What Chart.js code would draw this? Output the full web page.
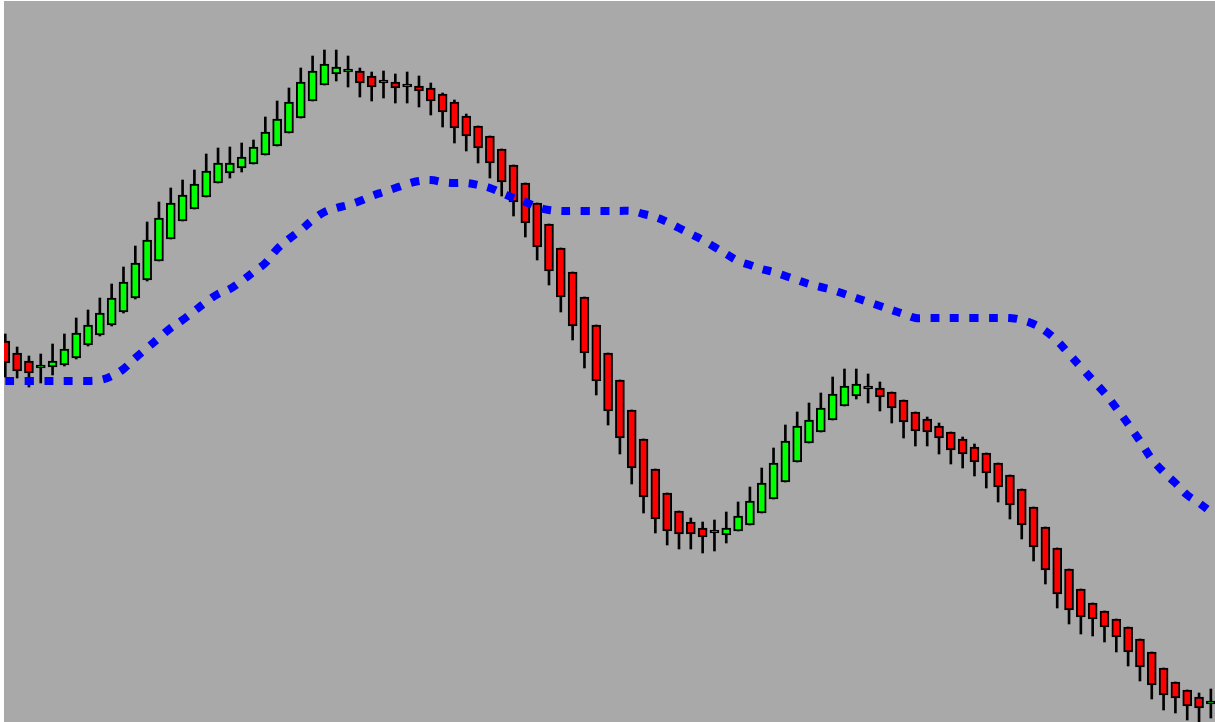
<!DOCTYPE html>
<html>
<head>
<meta charset="utf-8">
<script src="https://cdn.jsdelivr.net/npm/chart.js@4"></script>
<style>
html,body{margin:0;padding:0;background:#ffffff;width:1215px;height:722px;overflow:hidden}
#wrap{position:absolute;left:4px;top:1px;width:1211px;height:721px}
</style>
</head>
<body>
<div id="wrap"><canvas id="c" width="1211" height="721"></canvas></div>
<script>
// Bar numbers (one per candle)
const bars = Array.from({length: 103}, (_, i) => i);

const open = [
1.2659,1.2647,1.2639,1.2632,1.2633,1.2635,1.2642,1.2655,1.2665,1.2675,
1.2688,1.2702,1.2720,1.2739,1.2761,1.2779,1.2791,1.2803,1.2817,1.2827,
1.2832,1.2836,1.2845,1.2854,1.2867,1.2882,1.2899,1.2915,1.2926,1.2928,
1.2929,1.2924,1.2917,1.2918,1.2913,1.2914,1.2912,1.2906,1.2898,1.2884,
1.2874,1.2864,1.2851,1.2835,1.2817,1.2797,1.2776,1.2752,1.2728,1.2703,
1.2675,1.2647,1.2620,1.2590,1.2561,1.2531,1.2507,1.2489,1.2478,1.2472,
1.2467,1.2465,1.2469,1.2475,1.2487,1.2501,1.2518,1.2538,1.2557,1.2568,
1.2580,1.2594,1.2604,1.2611,1.2612,1.2608,1.2600,1.2588,1.2581,1.2574,
1.2568,1.2561,1.2553,1.2547,1.2537,1.2525,1.2511,1.2493,1.2473,1.2452,
1.2431,1.2411,1.2397,1.2389,1.2381,1.2373,1.2361,1.2348,1.2332,1.2318,
1.2310,1.2303,1.2296];

const high = [
1.2666,1.2653,1.2644,1.2646,1.2656,1.2666,1.2682,1.2690,1.2702,1.2716,
1.2733,1.2754,1.2778,1.2798,1.2812,1.2820,1.2830,1.2846,1.2852,1.2853,
1.2857,1.2860,1.2883,1.2899,1.2912,1.2932,1.2944,1.2950,1.2950,1.2944,
1.2932,1.2928,1.2929,1.2926,1.2928,1.2924,1.2917,1.2907,1.2900,1.2886,
1.2874,1.2864,1.2851,1.2835,1.2817,1.2797,1.2776,1.2752,1.2728,1.2703,
1.2675,1.2647,1.2620,1.2590,1.2561,1.2531,1.2507,1.2489,1.2482,1.2478,
1.2480,1.2488,1.2498,1.2513,1.2532,1.2552,1.2575,1.2588,1.2597,1.2607,
1.2623,1.2631,1.2631,1.2626,1.2618,1.2608,1.2600,1.2588,1.2583,1.2577,
1.2568,1.2563,1.2556,1.2547,1.2537,1.2525,1.2511,1.2493,1.2473,1.2452,
1.2431,1.2411,1.2397,1.2389,1.2381,1.2373,1.2361,1.2348,1.2332,1.2318,
1.2310,1.2307,1.2311];

const low = [
1.2623,1.2622,1.2613,1.2617,1.2625,1.2634,1.2641,1.2654,1.2664,1.2674,
1.2687,1.2701,1.2719,1.2739,1.2761,1.2779,1.2791,1.2803,1.2817,1.2822,
1.2828,1.2836,1.2845,1.2854,1.2867,1.2882,1.2899,1.2915,1.2919,1.2913,
1.2903,1.2899,1.2902,1.2897,1.2897,1.2893,1.2885,1.2873,1.2857,1.2849,
1.2837,1.2822,1.2804,1.2784,1.2763,1.2740,1.2715,1.2688,1.2660,1.2632,
1.2605,1.2575,1.2546,1.2516,1.2487,1.2467,1.2455,1.2451,1.2451,1.2447,
1.2449,1.2457,1.2469,1.2475,1.2487,1.2501,1.2518,1.2538,1.2557,1.2568,
1.2580,1.2594,1.2601,1.2597,1.2589,1.2577,1.2562,1.2554,1.2554,1.2546,
1.2536,1.2532,1.2524,1.2512,1.2498,1.2481,1.2461,1.2439,1.2416,1.2392,
1.2376,1.2366,1.2364,1.2358,1.2348,1.2334,1.2319,1.2301,1.2290,1.2287,
1.2280,1.2278,1.2282];

const close = [
1.2637,1.2629,1.2627,1.2632,1.2639,1.2651,1.2667,1.2675,1.2687,1.2702,
1.2718,1.2737,1.2760,1.2782,1.2797,1.2805,1.2816,1.2829,1.2837,1.2837,
1.2843,1.2853,1.2868,1.2881,1.2898,1.2918,1.2929,1.2936,1.2933,1.2928,
1.2917,1.2913,1.2917,1.2912,1.2913,1.2909,1.2899,1.2888,1.2872,1.2864,
1.2852,1.2837,1.2818,1.2798,1.2777,1.2753,1.2729,1.2703,1.2674,1.2647,
1.2619,1.2589,1.2562,1.2532,1.2503,1.2481,1.2469,1.2466,1.2466,1.2463,
1.2467,1.2472,1.2484,1.2499,1.2517,1.2537,1.2559,1.2574,1.2580,1.2592,
1.2606,1.2614,1.2616,1.2611,1.2603,1.2592,1.2578,1.2569,1.2568,1.2562,
1.2550,1.2546,1.2538,1.2527,1.2513,1.2495,1.2475,1.2453,1.2430,1.2406,
1.2390,1.2383,1.2381,1.2373,1.2363,1.2348,1.2333,1.2315,1.2305,1.2302,
1.2294,1.2292,1.2296];

// Blue dotted moving-average line
const ma = [
1.2619,1.2619,1.2619,1.2619,1.2619,1.2619,1.2619,1.2619,1.2620,1.2624,
1.2631,1.2642,1.2652,1.2662,1.2672,1.2680,1.2689,1.2698,1.2706,1.2711,
1.2719,1.2728,1.2737,1.2751,1.2761,1.2770,1.2780,1.2788,1.2792,1.2795,
1.2799,1.2804,1.2808,1.2812,1.2816,1.2819,1.2820,1.2818,1.2817,1.2817,
1.2815,1.2812,1.2807,1.2802,1.2798,1.2793,1.2790,1.2789,1.2789,1.2789,
1.2789,1.2789,1.2789,1.2789,1.2786,1.2783,1.2778,1.2772,1.2766,1.2760,
1.2753,1.2746,1.2739,1.2735,1.2731,1.2728,1.2724,1.2720,1.2716,1.2713,
1.2710,1.2706,1.2702,1.2698,1.2694,1.2690,1.2686,1.2682,1.2682,1.2682,
1.2682,1.2682,1.2682,1.2682,1.2682,1.2682,1.2680,1.2676,1.2669,1.2659,
1.2646,1.2633,1.2620,1.2607,1.2592,1.2576,1.2559,1.2541,1.2528,1.2517,
1.2505,1.2497,1.2488];

const bgPlugin = {
  id: 'bg',
  beforeDraw(chart) {
    const ctx = chart.ctx;
    ctx.save();
    ctx.fillStyle = '#a9a9a9';
    ctx.fillRect(0, 0, chart.width, chart.height);
    ctx.restore();
  }
};

new Chart(document.getElementById('c'), {
  type: 'bar',
  data: {
    datasets: [
      {
        type: 'line',
        label: 'MA',
        data: bars.map(i => ({x: i, y: ma[i]})),
        borderColor: '#0000ff',
        borderWidth: 8,
        borderDash: [9, 10.5],
        borderCapStyle: 'butt',
        pointRadius: 0,
        tension: 0.4,
        fill: false,
        order: 1
      },
      {
        label: 'Body',
        data: bars.map(i => ({x: i, y: [open[i], close[i]]})),
        backgroundColor: bars.map(i => close[i] >= open[i] ? '#00ff00' : '#ff0000'),
        borderColor: '#000000',
        borderWidth: 2,
        borderSkipped: false,
        barThickness: 9,
        minBarLength: 3,
        grouped: false,
        order: 2
      },
      {
        label: 'Wick',
        data: bars.map(i => ({x: i, y: [low[i], high[i]]})),
        backgroundColor: '#000000',
        borderWidth: 0,
        barThickness: 2,
        grouped: false,
        order: 3
      }
    ]
  },
  options: {
    responsive: false,
    animation: false,
    events: [],
    layout: {padding: 0},
    plugins: {legend: {display: false}, tooltip: {enabled: false}},
    scales: {
      x: {type: 'linear', min: -0.11, max: 102.35, display: false, offset: false, grid: {display: false}},
      y: {type: 'linear', min: 1.2278, max: 1.2999, display: false, grid: {display: false}}
    }
  },
  plugins: [bgPlugin]
});
</script>
</body>
</html>
